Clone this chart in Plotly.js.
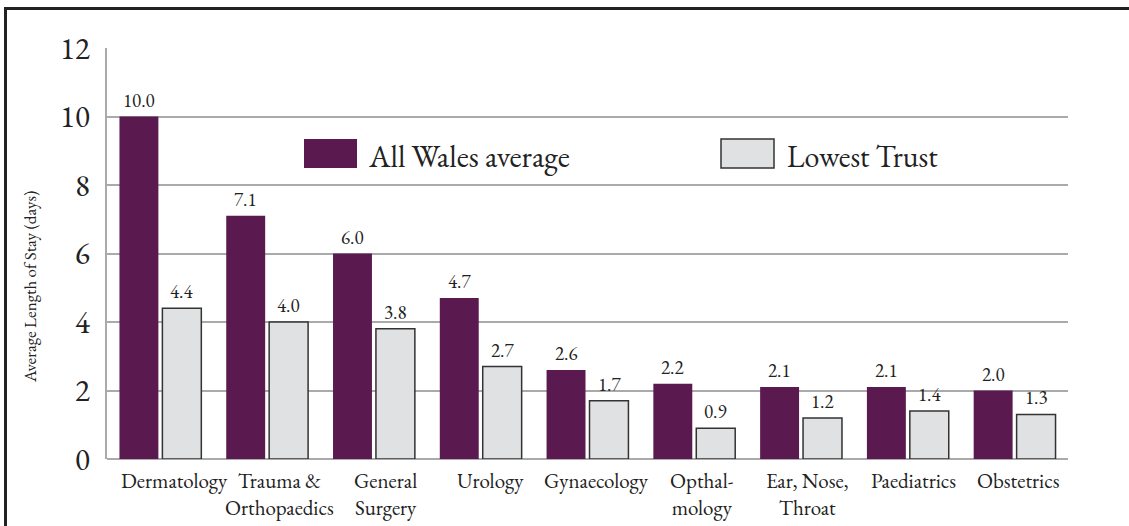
<!DOCTYPE html>
<html>
<head>
<meta charset="utf-8">
<script src="https://cdn.plot.ly/plotly-3.0.1.min.js"></script>
<style>
  html, body { margin: 0; padding: 0; background: #fff; overflow: hidden; }
  #chart { position: absolute; left: 0; top: 0; width: 1129px; height: 526px; }
  #frame { position: absolute; left: 4px; top: 7px; width: 1140px; height: 540px;
           border-top: 3px solid #222; border-left: 3px solid #222; pointer-events: none; }
</style>
</head>
<body>
<div id="chart"></div>
<div id="frame"></div>
<script>
const categories = ["Dermatology", "Trauma &<br>Orthopaedics", "General<br>Surgery", "Urology",
  "Gynaecology", "Opthal-<br>mology", "Ear, Nose,<br>Throat", "Paediatrics", "Obstetrics"];
const allWales = [10.0, 7.1, 6.0, 4.7, 2.6, 2.2, 2.1, 2.1, 2.0];
const lowestTrust = [4.4, 4.0, 3.8, 2.7, 1.7, 0.9, 1.2, 1.4, 1.3];
const seriesNames = ["All Wales average", "Lowest Trust"];
const yTicks = [0, 2, 4, 6, 8, 10, 12];

const W = 1129, H = 526;
const M = { l: 107, r: 61, t: 48, b: 67 };
const pw = W - M.l - M.r, ph = H - M.t - M.b;
const px = x => (x - M.l) / pw;
const py = y => (H - M.b - y) / ph;

const FONT = "EB Garamond";
const PURPLE = "#5a1a50";
const GREY = "#e0e1e3";
const TXT = "#222";

const traces = [
  { type: "bar", name: seriesNames[0], x: categories, y: allWales,
    marker: { color: PURPLE, line: { width: 0 } }, hoverinfo: "y" },
  { type: "bar", name: seriesNames[1], x: categories, y: lowestTrust,
    marker: { color: GREY, line: { color: "#333", width: 1.5 } }, hoverinfo: "y" }
];

const shapes = [
  { type: "rect", xref: "paper", yref: "paper", x0: px(304), x1: px(357), y0: py(168), y1: py(139),
    fillcolor: PURPLE, line: { width: 0 } },
  { type: "rect", xref: "paper", yref: "paper", x0: px(721), x1: px(774), y0: py(168), y1: py(139),
    fillcolor: GREY, line: { color: "#333", width: 1.5 } }
];

const annotations = [
  { xref: "paper", yref: "paper", x: px(366), y: py(156), xanchor: "left", yanchor: "middle",
    text: seriesNames[0], showarrow: false, font: { family: FONT, size: 31, color: TXT } },
  { xref: "paper", yref: "paper", x: px(785), y: py(156), xanchor: "left", yanchor: "middle",
    text: seriesNames[1], showarrow: false, font: { family: FONT, size: 30, color: TXT } },
  { xref: "paper", yref: "paper", x: px(30), y: py(287), xanchor: "center", yanchor: "middle",
    textangle: -90, text: "Average Length of Stay (days)", showarrow: false,
    font: { family: FONT, size: 17, color: TXT } }
];

// value labels above each bar, placed through the data axes
[allWales, lowestTrust].forEach((vals, s) => {
  vals.forEach((v, i) => {
    annotations.push({
      xref: "x", yref: "y", x: categories[i], y: v, xshift: s === 0 ? -21.5 : 21.5, yshift: 2,
      xanchor: "center", yanchor: "bottom", text: v.toFixed(1), showarrow: false,
      font: { family: FONT, size: 19, color: TXT }
    });
  });
});

// category labels under the axis (slightly offset like the original layout)
categories.forEach((c, i) => {
  annotations.push({
    xref: "x", yref: "paper", x: c, y: 0, yshift: -6, xshift: 14 - 1.25 * i,
    xanchor: "center", yanchor: "top", text: c, showarrow: false,
    font: { family: FONT, size: 21, color: TXT }
  });
});

const layout = {
  width: W, height: H,
  margin: M,
  paper_bgcolor: "#fff", plot_bgcolor: "#fff",
  barmode: "group", bargap: 0.196, bargroupgap: 0.093,
  showlegend: false,
  font: { family: FONT, color: TXT },
  xaxis: {
    type: "category", showgrid: false, zeroline: false, showline: false,
    ticks: "", showticklabels: false, fixedrange: true
  },
  yaxis: {
    range: [0, 12], tickvals: yTicks, ticktext: yTicks.map(String),
    showgrid: true, gridcolor: "#aaaaaa", gridwidth: 2,
    zeroline: true, zerolinecolor: "#aaaaaa", zerolinewidth: 2,
    showline: true, linecolor: "#aaaaaa", linewidth: 2,
    ticks: "", tickfont: { family: FONT, size: 31, color: TXT }, ticklabelstandoff: 9,
    fixedrange: true
  },
  shapes: shapes,
  annotations: annotations
};

Plotly.newPlot("chart", traces, layout, { displayModeBar: false, staticPlot: true });
</script>
</body>
</html>
